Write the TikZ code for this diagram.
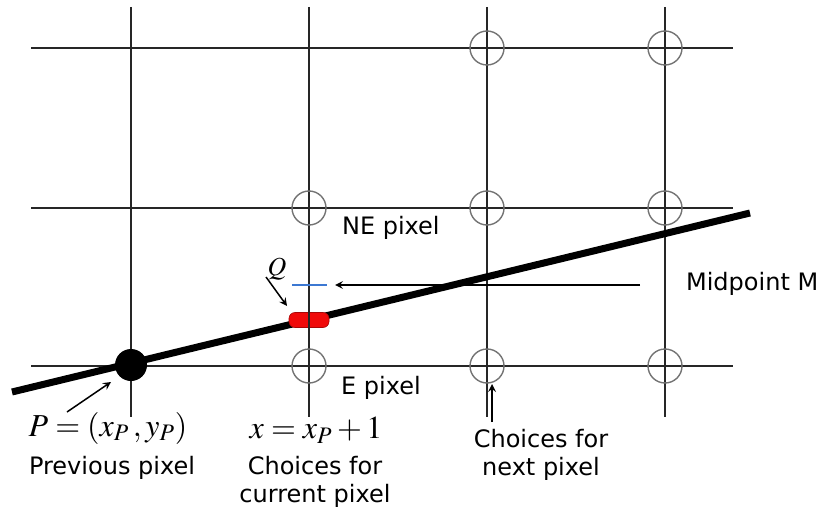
\documentclass[tikz,border=0pt]{standalone}
\usepackage{mathptmx}
\usepackage[no-math]{fontspec}
\setmainfont{DejaVu Sans}
\definecolor{pixred}{RGB}{240, 10, 10}
\definecolor{midblue}{RGB}{60, 120, 210}
\usepackage{tikz}

\begin{document}
\begin{tikzpicture}[
  x=0.5pt, y=-0.5pt,
  arrow/.style={->, >=stealth, line width=0.75pt, black},
  gridline/.style={line width=0.7pt, black!85},
  pixel/.style={circle, draw=black!55, line width=0.7pt, minimum size=17pt, inner sep=0pt},
  label/.style={font=\fontsize{12}{14}\selectfont, align=center},
  mathlabel/.style={font=\fontsize{16}{18}\selectfont},
]
\useasboundingbox (0,0) rectangle (818,513);

% Grid
\foreach \y in {48, 208, 366}
  \draw[gridline] (31,\y) -- (733,\y);
\foreach \x in {131, 309, 487, 665}
  \draw[gridline] (\x,7) -- (\x,417);

% Candidate pixels
\node[pixel] (ne1) at (487,48) {};
\node[pixel] (ne2) at (665,48) {};
\node[pixel] (ne) at (309,208) {};
\node[pixel] (nn1) at (487,208) {};
\node[pixel] (nn2) at (665,208) {};
\node[pixel] (e) at (309,366) {};
\node[pixel] (en1) at (487,366) {};
\node[pixel] (en2) at (665,366) {};

% Line and pixels on it
\draw[line width=3.5pt] (12,392) -- (750,213);
\node[circle, fill=black, minimum size=16pt, inner sep=0pt] (prev) at (131,365) {};
\node[rounded corners=3pt, fill=pixred, draw=pixred!70!black, line width=0.3pt, minimum width=20pt, minimum height=7.5pt, inner sep=0pt] (q) at (309,320) {};
\draw[gridline] (309,300) -- (309,340);
\coordinate (mid) at (335,285);
\draw[midblue, line width=0.6pt] (292,285) -- (327,285);

% Labels
\node[mathlabel] (plabel) at (108,428) {$P=(x_P\,,y_P)$};
\node[label] (prevlabel) at (112,468) {Previous pixel};
\node[mathlabel] (xlabel) at (316,430) {$x=x_P+1$};
\node[label] (curlabel) at (315,482) {Choices for\\current pixel};
\node[label] (nextlabel) at (541,455) {Choices for\\next pixel};
\node[label, anchor=west] (elabel) at (334,388) {E pixel};
\node[label, anchor=west] (nelabel) at (335,228) {NE pixel};
\node[label, anchor=west] (mlabel) at (679,284) {Midpoint M};
\node[font=\fontsize{13}{15}\selectfont] (qlabel) at (277,269) {$Q$};

% Arrows
\coordinate (pstart) at (67,412);
\coordinate (pend) at (111,382);
\draw[arrow] (pstart) -- (pend);
\coordinate (qstart) at (266,277);
\coordinate (qend) at (287,306);
\draw[arrow] (qstart) -- (qend);
\coordinate (mstart) at (640,285);
\draw[arrow] (mstart) -- (mid);
\coordinate (nstart) at (492,422);
\coordinate (nend) at (492,384);
\draw[arrow] (nstart) -- (nend);
\end{tikzpicture}
\end{document}
